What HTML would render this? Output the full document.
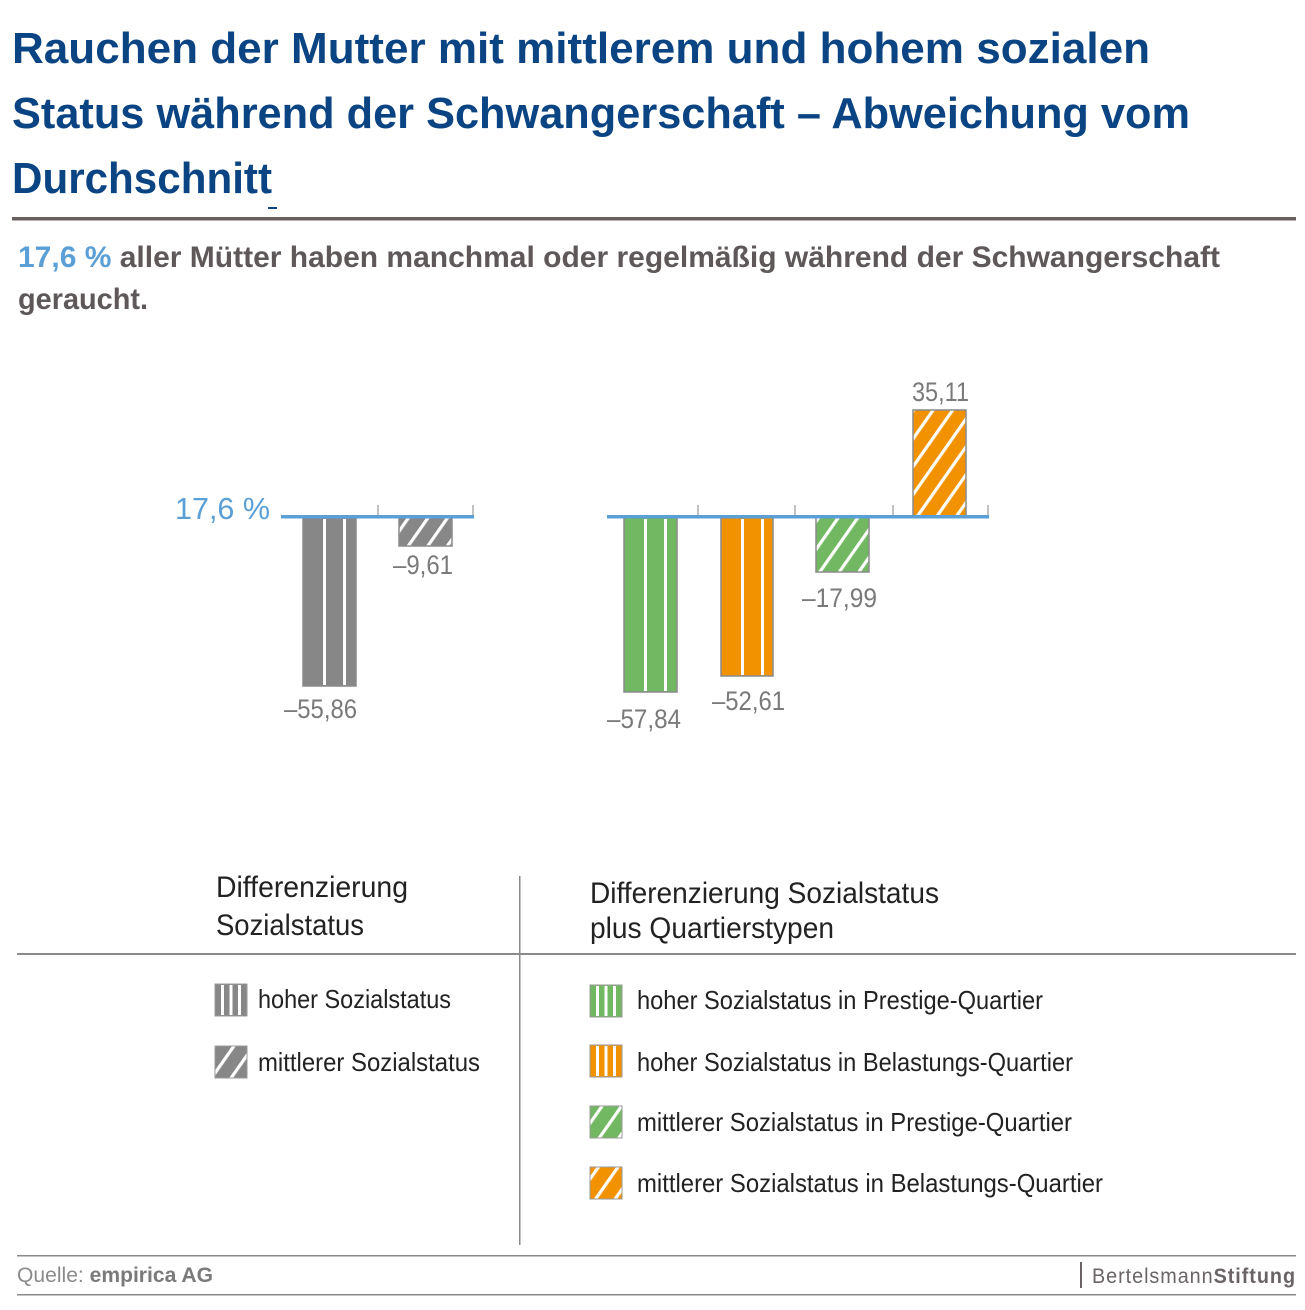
<!DOCTYPE html>
<html><head><meta charset="utf-8"><style>html,body{margin:0;padding:0;background:#fff}svg{display:block}</style></head>
<body>
<svg width="1305" height="1310" viewBox="0 0 1305 1310" xmlns="http://www.w3.org/2000/svg" font-family="'Liberation Sans Narrow','Liberation Sans',sans-serif">
<defs>
<pattern id="dg" width="16" height="16" patternUnits="userSpaceOnUse" patternTransform="rotate(35)"><rect width="16" height="16" fill="#878787"/><rect x="6" width="3.2" height="16" fill="#fff"/></pattern>
<pattern id="dgr" width="16" height="16" patternUnits="userSpaceOnUse" patternTransform="rotate(35)"><rect width="16" height="16" fill="#72b862"/><rect x="6" width="3.2" height="16" fill="#fff"/></pattern>
<pattern id="dor" width="16" height="16" patternUnits="userSpaceOnUse" patternTransform="rotate(35)"><rect width="16" height="16" fill="#f39200"/><rect x="6" width="3.2" height="16" fill="#fff"/></pattern>
</defs>
<g fill="#0b4483" font-weight="bold" font-size="44">
<text x="12" y="63" textLength="1138" lengthAdjust="spacingAndGlyphs">Rauchen der Mutter mit mittlerem und hohem sozialen</text>
<text x="12" y="128" textLength="1178" lengthAdjust="spacingAndGlyphs">Status während der Schwangerschaft – Abweichung vom</text>
<text x="12" y="193" textLength="260" lengthAdjust="spacingAndGlyphs">Durchschnitt</text>
</g>
<rect x="268" y="207" width="9" height="2" fill="#0b4483"/>
<rect x="12" y="217" width="1284" height="3.5" fill="#67605f"/>
<text x="18" y="267" font-size="30" font-weight="bold" fill="#5e5859" textLength="1202" lengthAdjust="spacingAndGlyphs"><tspan fill="#5b9fd7">17,6 %</tspan> aller Mütter haben manchmal oder regelmäßig während der Schwangerschaft</text>
<text x="18" y="309" font-size="30" font-weight="bold" fill="#5e5859" textLength="130" lengthAdjust="spacingAndGlyphs">geraucht.</text>

<text x="175" y="519" font-size="31" fill="#5b9fd7" textLength="95" lengthAdjust="spacingAndGlyphs">17,6 %</text>
<g stroke="#8a8a8a" stroke-width="1.5">
<rect x="303" y="517" width="53" height="169" fill="#878787"/>
<rect x="399" y="517" width="53" height="29" fill="url(#dg)"/>
<rect x="624" y="517" width="53" height="175" fill="#72b862"/>
<rect x="721" y="517" width="52" height="159" fill="#f39200"/>
<rect x="816" y="517" width="53" height="55" fill="url(#dgr)"/>
<rect x="913" y="410" width="53" height="107" fill="url(#dor)"/>
</g>
<g fill="#fff">
<rect x="323" y="519" width="3" height="166"/><rect x="343" y="519" width="3" height="166"/>
<rect x="644" y="519" width="3" height="172"/><rect x="664" y="519" width="3" height="172"/>
<rect x="741" y="519" width="3" height="156"/><rect x="761" y="519" width="3" height="156"/>
</g>
<g stroke="#999" stroke-width="1.2">
<line x1="378" y1="505" x2="378" y2="517"/><line x1="473" y1="505" x2="473" y2="517"/>
<line x1="698" y1="505" x2="698" y2="517"/><line x1="795" y1="505" x2="795" y2="517"/>
<line x1="893" y1="505" x2="893" y2="517"/><line x1="988" y1="505" x2="988" y2="517"/>
</g>
<rect x="281" y="515" width="193" height="3.5" fill="#5b9fd7"/>
<rect x="607" y="515" width="382" height="3.5" fill="#5b9fd7"/>
<g font-size="27" fill="#7a7a7a" lengthAdjust="spacingAndGlyphs">
<text x="284" y="718" textLength="73" lengthAdjust="spacingAndGlyphs">–55,86</text>
<text x="393" y="574" textLength="60" lengthAdjust="spacingAndGlyphs">–9,61</text>
<text x="607" y="728" textLength="74" lengthAdjust="spacingAndGlyphs">–57,84</text>
<text x="712" y="710" textLength="73" lengthAdjust="spacingAndGlyphs">–52,61</text>
<text x="802" y="607" textLength="75" lengthAdjust="spacingAndGlyphs">–17,99</text>
<text x="912" y="401" textLength="57" lengthAdjust="spacingAndGlyphs">35,11</text>
</g>
<g font-size="30" fill="#222">
<text x="216" y="897" textLength="192" lengthAdjust="spacingAndGlyphs">Differenzierung</text>
<text x="216" y="935" textLength="148" lengthAdjust="spacingAndGlyphs">Sozialstatus</text>
<text x="590" y="903" textLength="349" lengthAdjust="spacingAndGlyphs">Differenzierung Sozialstatus</text>
<text x="590" y="938" textLength="244" lengthAdjust="spacingAndGlyphs">plus Quartierstypen</text>
</g>
<rect x="17" y="953" width="1279" height="2" fill="#8a8a8a"/>
<rect x="519" y="876" width="1.5" height="369" fill="#8a8a8a"/>
<g stroke="#999" stroke-width="1">
<rect x="215" y="984" width="32" height="32" fill="#878787"/>
<rect x="215" y="1046" width="32" height="32" fill="url(#dg)"/>
<rect x="590" y="985" width="32" height="32" fill="#72b862"/>
<rect x="590" y="1045" width="32" height="32" fill="#f39200"/>
<rect x="590" y="1106" width="32" height="32" fill="url(#dgr)"/>
<rect x="590" y="1167" width="32" height="32" fill="url(#dor)"/>
</g>
<g fill="#fff">
<rect x="221" y="985" width="3" height="30"/><rect x="229.5" y="985" width="3" height="30"/><rect x="238" y="985" width="3" height="30"/>
<rect x="596" y="986" width="3" height="30"/><rect x="604.5" y="986" width="3" height="30"/><rect x="613" y="986" width="3" height="30"/>
<rect x="596" y="1046" width="3" height="30"/><rect x="604.5" y="1046" width="3" height="30"/><rect x="613" y="1046" width="3" height="30"/>
</g>
<g font-size="26" fill="#222">
<text x="258" y="1008" textLength="193" lengthAdjust="spacingAndGlyphs">hoher Sozialstatus</text>
<text x="258" y="1071" textLength="222" lengthAdjust="spacingAndGlyphs">mittlerer Sozialstatus</text>
<text x="637" y="1009" textLength="406" lengthAdjust="spacingAndGlyphs">hoher Sozialstatus in Prestige-Quartier</text>
<text x="637" y="1071" textLength="436" lengthAdjust="spacingAndGlyphs">hoher Sozialstatus in Belastungs-Quartier</text>
<text x="637" y="1131" textLength="435" lengthAdjust="spacingAndGlyphs">mittlerer Sozialstatus in Prestige-Quartier</text>
<text x="637" y="1192" textLength="466" lengthAdjust="spacingAndGlyphs">mittlerer Sozialstatus in Belastungs-Quartier</text>
</g>
<rect x="17" y="1255" width="1279" height="1.5" fill="#8a8a8a"/>
<rect x="17" y="1294" width="1279" height="1.5" fill="#8a8a8a"/>
<text x="17" y="1282" font-size="21" fill="#8a8a8a" textLength="196" lengthAdjust="spacingAndGlyphs">Quelle: <tspan font-weight="bold" fill="#7a7a7a">empirica AG</tspan></text>
<rect x="1080" y="1262" width="2" height="26" fill="#6a6466"/>
<text x="1092" y="1283" font-size="21" fill="#6a6466" textLength="204" lengthAdjust="spacingAndGlyphs" letter-spacing="1">Bertelsmann<tspan font-weight="bold">Stiftung</tspan></text>
</svg>
</body></html>
